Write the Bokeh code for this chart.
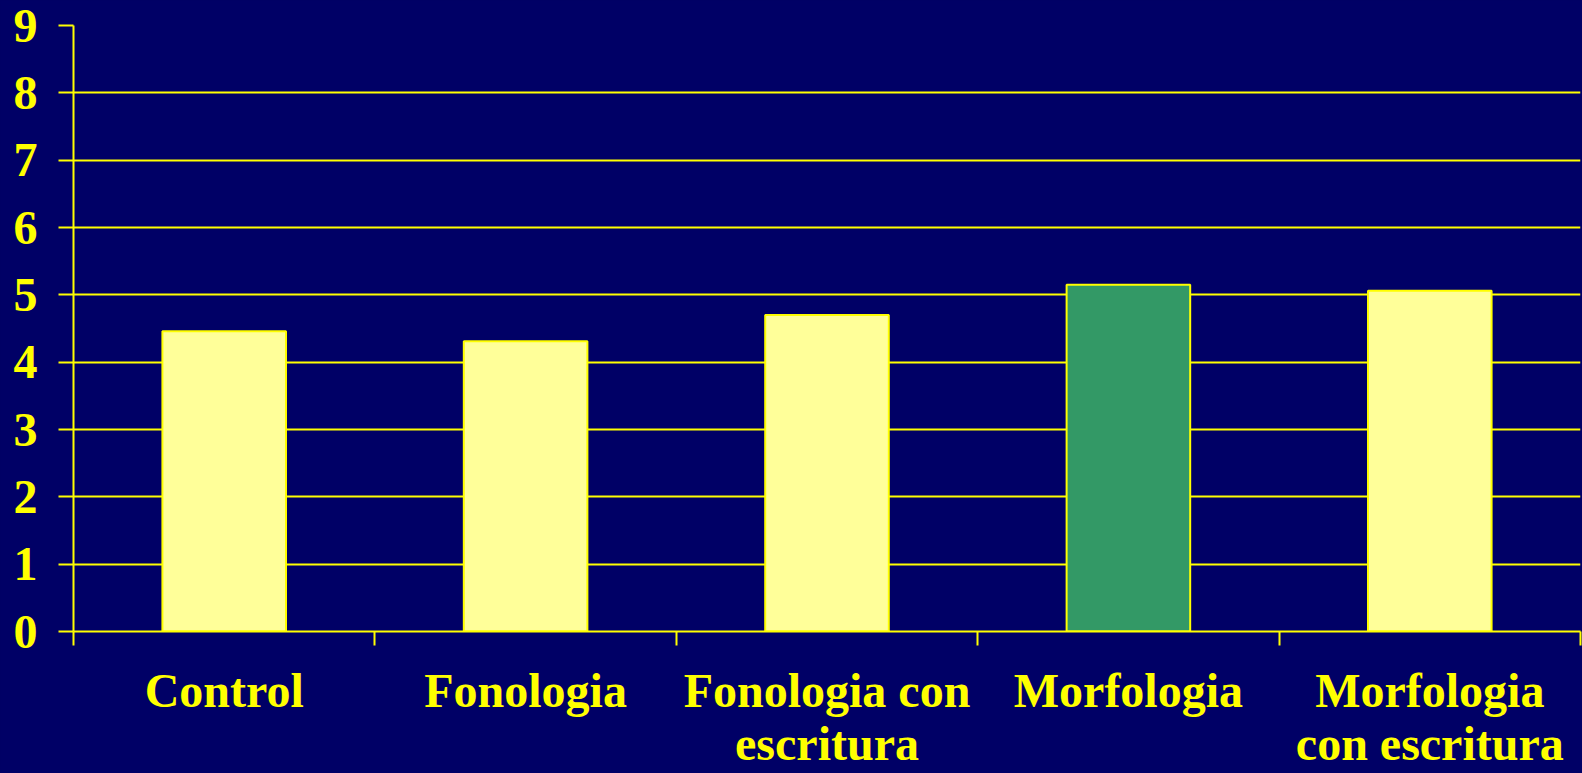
from bokeh.plotting import figure
from bokeh.models import Range1d, FixedTicker, ColumnDataSource
from bokeh.embed import file_html
from bokeh.resources import INLINE
import numpy as np

categories = ["Control", "Fonologia", "Fonologia con\nescritura", "Morfologia", "Morfologia\ncon escritura"]
values = [4.46, 4.31, 4.70, 5.15, 5.06]
bar_colors = ["#FFFF99", "#FFFF99", "#FFFF99", "#339966", "#FFFF99"]
y_ticks = [0, 1, 2, 3, 4, 5, 6, 7, 8, 9]

BG = "#000066"
YEL = "#FFFF00"
FONT = "Liberation Serif"

xpos = np.arange(len(categories)) + 0.5
src = ColumnDataSource(dict(x=xpos, top=values, color=bar_colors))

p = figure(width=1582, height=773, output_backend="svg", toolbar_location=None,
           x_range=Range1d(0, len(categories)), y_range=Range1d(0, 9),
           background_fill_color=BG, border_fill_color=BG, outline_line_color=None,
           min_border_left=73, min_border_right=2, min_border_top=25, min_border_bottom=142)

p.vbar(x="x", top="top", bottom=0, width=0.41, fill_color="color", line_color=YEL,
       line_width=2, source=src)

# y axis
ya = p.yaxis[0]
ya.ticker = FixedTicker(ticks=y_ticks, minor_ticks=[])
ya.axis_line_color = YEL
ya.axis_line_width = 2
ya.major_tick_line_color = YEL
ya.major_tick_line_width = 2
ya.major_tick_out = 15
ya.major_tick_in = 0
ya.minor_tick_line_color = None
ya.major_label_standoff = 21
ya.major_label_text_color = YEL
ya.major_label_text_font = FONT
ya.major_label_text_font_style = "bold"
ya.major_label_text_font_size = "48px"

# x axis
xa = p.xaxis[0]
xa.ticker = FixedTicker(ticks=list(xpos), minor_ticks=list(range(len(categories) + 1)))
xa.major_label_overrides = {float(x): c for x, c in zip(xpos, categories)}
xa.axis_line_color = YEL
xa.axis_line_width = 2
xa.major_tick_line_color = None
xa.major_tick_out = 0
xa.major_tick_in = 0
xa.minor_tick_line_color = YEL
xa.minor_tick_line_width = 2
xa.minor_tick_out = 14
xa.minor_tick_in = 0
xa.major_label_standoff = 18
xa.major_label_text_color = YEL
xa.major_label_text_font = FONT
xa.major_label_text_font_style = "bold"
xa.major_label_text_font_size = "48px"
xa.major_label_text_line_height = 1.0

p.xgrid.grid_line_color = None
p.ygrid.grid_line_color = YEL
p.ygrid.grid_line_width = 2
p.ygrid.ticker = FixedTicker(ticks=y_ticks)

TEMPLATE = """{% block preamble %}<style>html, body { margin: 0; padding: 0; background: #000066; overflow: hidden; }</style>{% endblock %}
"""

open("out.html", "w").write(file_html(p, INLINE, template=TEMPLATE))
